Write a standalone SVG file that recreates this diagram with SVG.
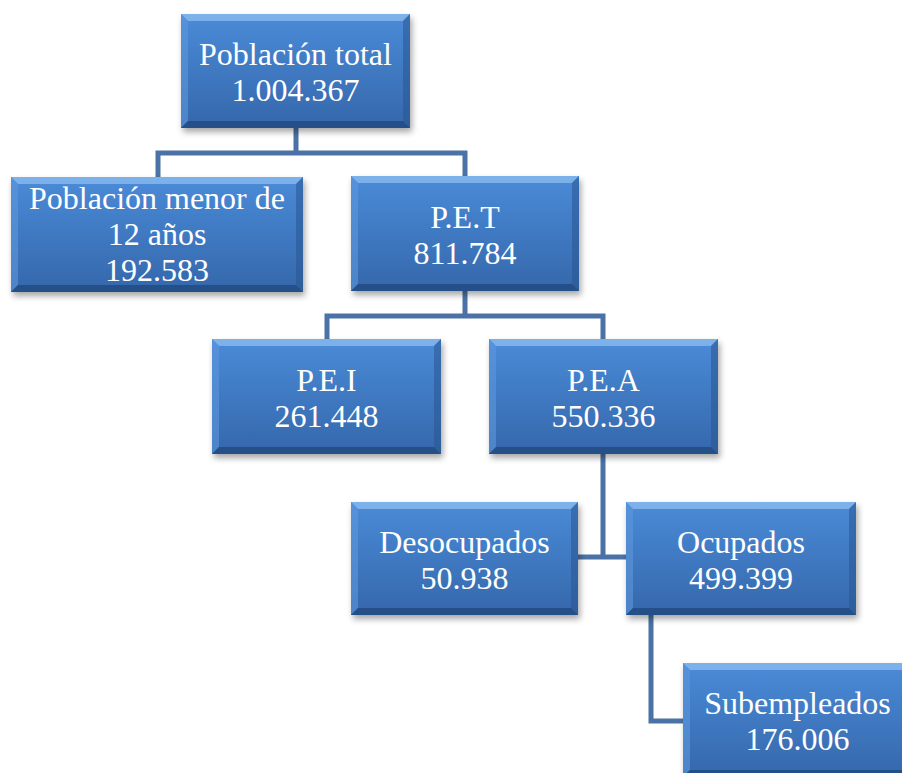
<svg xmlns="http://www.w3.org/2000/svg" width="902" height="773" viewBox="0 0 902 773">
<defs>
<linearGradient id="g" x1="0" y1="0" x2="0" y2="1">
<stop offset="0" stop-color="#4a8bd8"/>
<stop offset="1" stop-color="#3567ab"/>
</linearGradient>
<filter id="sh" x="-10%" y="-10%" width="125%" height="130%">
<feDropShadow dx="2" dy="4" stdDeviation="3" flood-color="#000" flood-opacity="0.35"/>
</filter>
</defs>
<style>
.box{fill:url(#g);filter:url(#sh)}
.bt{fill:#8fbdf0;opacity:0.75}
.bl{fill:#5e97dc;opacity:0.6}
.br{fill:#2a5590;opacity:0.55}
.bb{fill:#1f4477;opacity:0.7}
.t{font-size:32px;fill:#ffffff;text-anchor:middle}
.con{fill:none;stroke:#4a72a6;stroke-width:5;stroke-linejoin:miter}
</style>
<rect width="902" height="773" fill="#ffffff"/>
<g id="connectors">
<path class="con" d="M296 128 V153 M158 177 V153 H465 V176"/>
<path class="con" d="M465 291 V316 M327 339 V316 H603 V339"/>
<path class="con" d="M603 454 V557 M578 557 H626"/>
<path class="con" d="M651 615 V721 H683"/>
</g>
<g id="nodes" font-family="Liberation Serif, Times New Roman, serif">
<g id="n1">
<rect class="box" x="181" y="14" width="229" height="114"/>
<polygon class="bt" points="181,14 410,14 403,21 188,21"/>
<polygon class="bl" points="181,14 188,21 188,121 181,128"/>
<polygon class="br" points="410,14 410,128 403,121 403,21"/>
<polygon class="bb" points="181,128 188,121 403,121 410,128"/>
<text class="t" x="295.5" y="65">Población total</text>
<text class="t" x="295.5" y="101">1.004.367</text>
</g>
<g id="n2">
<rect class="box" x="11" y="177" width="292" height="115"/>
<polygon class="bt" points="11,177 303,177 296,184 18,184"/>
<polygon class="bl" points="11,177 18,184 18,285 11,292"/>
<polygon class="br" points="303,177 303,292 296,285 296,184"/>
<polygon class="bb" points="11,292 18,285 296,285 303,292"/>
<text class="t" x="157" y="208.5">Población menor de</text>
<text class="t" x="157" y="244.5">12 años</text>
<text class="t" x="157" y="280.5">192.583</text>
</g>
<g id="n3">
<rect class="box" x="351" y="176" width="228" height="115"/>
<polygon class="bt" points="351,176 579,176 572,183 358,183"/>
<polygon class="bl" points="351,176 358,183 358,284 351,291"/>
<polygon class="br" points="579,176 579,291 572,284 572,183"/>
<polygon class="bb" points="351,291 358,284 572,284 579,291"/>
<text class="t" x="465" y="228">P.E.T</text>
<text class="t" x="465" y="264">811.784</text>
</g>
<g id="n4">
<rect class="box" x="212" y="339" width="229" height="115"/>
<polygon class="bt" points="212,339 441,339 434,346 219,346"/>
<polygon class="bl" points="212,339 219,346 219,447 212,454"/>
<polygon class="br" points="441,339 441,454 434,447 434,346"/>
<polygon class="bb" points="212,454 219,447 434,447 441,454"/>
<text class="t" x="326.5" y="391">P.E.I</text>
<text class="t" x="326.5" y="427">261.448</text>
</g>
<g id="n5">
<rect class="box" x="489" y="339" width="229" height="115"/>
<polygon class="bt" points="489,339 718,339 711,346 496,346"/>
<polygon class="bl" points="489,339 496,346 496,447 489,454"/>
<polygon class="br" points="718,339 718,454 711,447 711,346"/>
<polygon class="bb" points="489,454 496,447 711,447 718,454"/>
<text class="t" x="603.5" y="391">P.E.A</text>
<text class="t" x="603.5" y="427">550.336</text>
</g>
<g id="n6">
<rect class="box" x="351" y="502" width="227" height="113"/>
<polygon class="bt" points="351,502 578,502 571,509 358,509"/>
<polygon class="bl" points="351,502 358,509 358,608 351,615"/>
<polygon class="br" points="578,502 578,615 571,608 571,509"/>
<polygon class="bb" points="351,615 358,608 571,608 578,615"/>
<text class="t" x="464.5" y="553">Desocupados</text>
<text class="t" x="464.5" y="589">50.938</text>
</g>
<g id="n7">
<rect class="box" x="626" y="502" width="230" height="113"/>
<polygon class="bt" points="626,502 856,502 849,509 633,509"/>
<polygon class="bl" points="626,502 633,509 633,608 626,615"/>
<polygon class="br" points="856,502 856,615 849,608 849,509"/>
<polygon class="bb" points="626,615 633,608 849,608 856,615"/>
<text class="t" x="741" y="553">Ocupados</text>
<text class="t" x="741" y="589">499.399</text>
</g>
<g id="n8">
<rect class="box" x="683" y="663" width="229" height="114"/>
<polygon class="bt" points="683,663 912,663 905,670 690,670"/>
<polygon class="bl" points="683,663 690,670 690,770 683,777"/>
<polygon class="br" points="912,663 912,777 905,770 905,670"/>
<polygon class="bb" points="683,777 690,770 905,770 912,777"/>
<text class="t" x="797.5" y="714">Subempleados</text>
<text class="t" x="797.5" y="750">176.006</text>
</g>
</g>
</svg>
